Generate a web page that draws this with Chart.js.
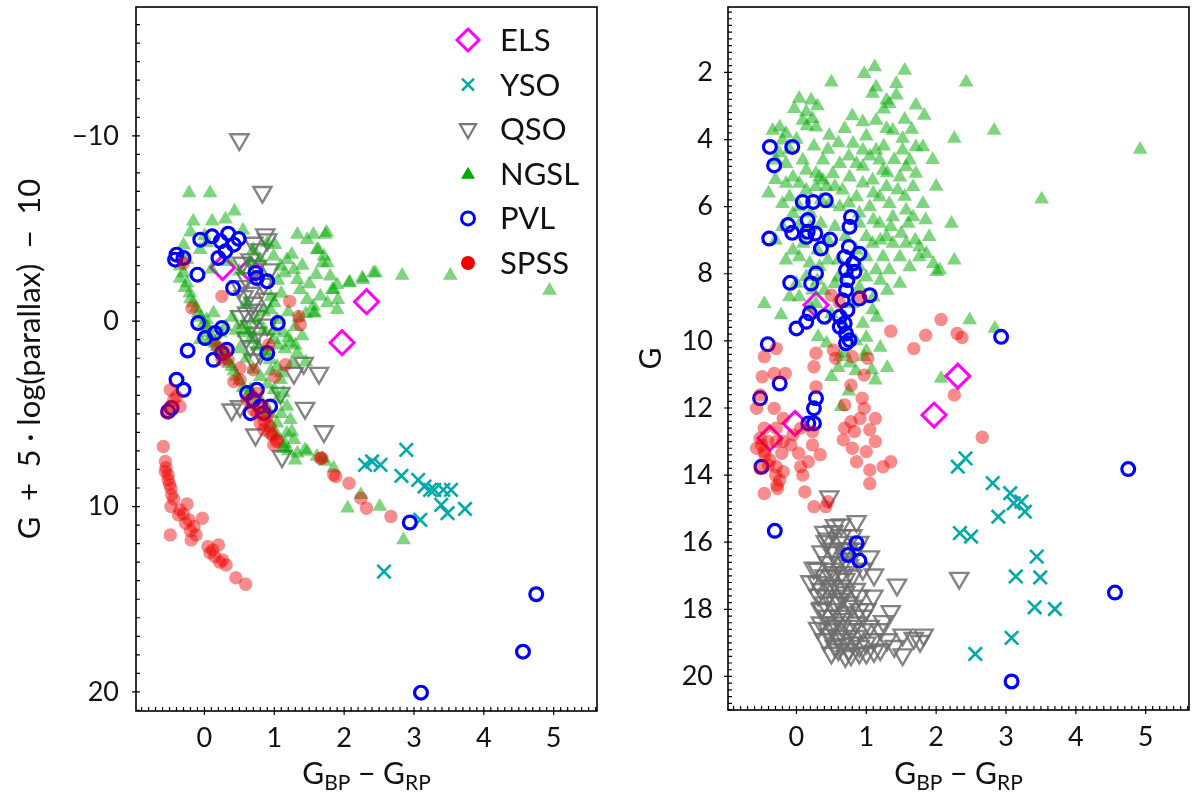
<!DOCTYPE html>
<html>
<head>
<meta charset="utf-8">
<title>Colour-magnitude diagrams</title>
<script src="https://cdn.jsdelivr.net/npm/chart.js@4.4.1/dist/chart.umd.min.js"></script>
<style>
  body { margin: 0; background: #fff; }
  canvas { position: absolute; top: 0; }
</style>
</head>
<body>
<canvas id="absPanel" width="600" height="795" style="left:0"></canvas>
<canvas id="appPanel" width="600" height="795" style="left:600px"></canvas>
<script>
// ---- data: [colour Gbp-Grp, magnitude] ----
const legendNames = ["ELS", "YSO", "QSO", "NGSL", "PVL", "SPSS"];
const colourTicks = [0, 1, 2, 3, 4, 5];
const absTicks = [-10, 0, 10, 20];
const appTicks = [2, 4, 6, 8, 10, 12, 14, 16, 18, 20];

// left panel: G + 5 log(parallax) - 10
const elsAbs = [[0.26,-2.89],[0.66,-2.78],[2.32,-1.05],[1.97,1.16]];
const ysoAbs = [[2.89,6.94],[2.3,7.75],[2.4,7.57],[2.52,7.75],[2.82,8.34],[3.06,8.56],[3.15,8.92],[3.23,9.1],
  [3.29,9.1],[3.42,9.1],[3.53,9.1],[3.39,9.91],[3.48,10.36],[3.73,10.13],[3.09,10.72],[2.57,13.51]];
const qsoAbs = [[0.5,-9.8],[0.83,-6.96],[0.87,-4.67],[0.7,-4.22],[0.8,-3.86],[0.54,-3.14],[0.66,-3.32],[0.75,-2.96],
  [0.94,-2.78],[0.51,-1.88],[0.66,-1.52],[0.56,-1.34],[0.7,-0.98],[0.61,-0.44],[0.75,-0.26],[0.51,-0.26],
  [0.66,0.28],[0.75,0.64],[0.85,1.0],[0.66,1.36],[0.8,1.72],[0.7,2.08],[1.42,2.26],[1.64,2.8],[1.28,2.8],
  [1.09,3.88],[1.44,4.69],[1.71,5.95],[1.11,7.3],[0.73,6.13],[0.39,4.78],[0.51,4.6],[0.9,-4.4],[0.6,-2.3],
  [0.85,-2.0],[0.7,-0.6],[0.9,0.2],[0.6,0.9],[0.9,-1.2]];
const ngslAbs = [[-0.22,-6.92],[0.08,-6.92],[0.43,-5.93],[-0.16,-5.39],[0.11,-5.39],[1.33,-4.67],[1.56,-4.67],
  [1.73,-4.67],[1.47,-4.4],[1.75,-4.78],[1.01,-4.13],[1.61,-3.86],[1.71,-3.5],[1.76,-3.14],[2.42,-2.6],
  [2.26,-2.33],[2.07,-2.06],[1.9,-1.97],[1.83,-1.7],[2.45,-2.6],[2.27,-2.24],[2.08,-2.1],[2.83,-2.46],
  [3.52,-2.46],[4.94,-1.65],[1.18,-3.32],[1.28,-2.78],[1.33,-2.24],[1.37,-1.7],[1.47,-1.16],[1.56,-0.8],
  [1.66,-1.34],[1.76,-0.98],[1.9,-0.62],[1.56,-0.44],[1.8,-2.42],[1.85,-1.7],[1.91,-1.16],[1.58,-0.44],
  [1.69,-3.14],[1.63,-3.86],[-0.3,-2.6],[-0.25,-2.06],[-0.21,-1.52],[-0.16,-0.98],[-0.09,-0.44],[-0.01,0.1],
  [0.03,0.64],[0.08,1.09],[0.18,1.36],[0.25,1.72],[0.32,2.08],[0.39,2.44],[0.46,2.98],[0.56,0.64],[0.66,1.0],
  [0.75,1.36],[0.85,1.72],[0.94,2.08],[1.04,2.44],[1.09,3.16],[1.13,3.88],[1.18,4.6],[1.23,5.32],[1.18,6.04],
  [1.28,6.4],[1.13,6.76],[0.94,-0.62],[1.04,-0.08],[1.13,0.64],[1.23,1.18],[1.33,1.72],[0.99,1.0],[0.85,0.46],
  [0.75,-0.08],[0.7,-3.86],[0.9,-4.22],[0.8,-3.32],[0.99,-3.5],[1.09,-2.96],[-0.25,-3.32],[-0.35,-2.96],
  [-0.06,-3.86],[0.03,-4.22],[1.44,6.94],[1.61,7.3],[1.73,7.57],[1.85,7.93],[1.33,7.12],[1.47,7.03],[1.69,7.39],
  [0.03,-0.08],[0.23,0.64],[-0.06,1.0],[0.13,-0.44],[0.66,3.7],[0.8,4.24],[0.94,4.96],[1.04,5.5],[0.99,6.04],
  [1.25,5.95],[1.14,6.85],[2.05,10.09],[2.24,9.37],[2.51,10.0],[2.85,11.8],[1.1,-1.5],[1.2,-0.5],[1.3,0.3],
  [1.0,0.5],[1.15,1.5],[1.25,2.3],[1.4,0.8],[1.05,-2.2],[0.95,-1.3],[1.35,-0.2],[0.9,1.6],[1.1,2.8],[1.45,2.2],
  [0.6,-1.0],[0.4,-0.2],[0.3,0.3],[0.5,1.5],[0.1,-2.8],[0.45,0.5],
  [-0.35,-2.3],[-0.28,-1.8],[-0.2,-1.2],[-0.12,-0.7],[-0.05,-0.2],[0.05,0.35],[0.1,0.8],[0.15,1.2],[0.22,1.5],
  [0.28,1.9],[0.35,2.3],[0.42,2.7],[0.5,3.2],[0.55,3.6],[0.62,4.0],[0.72,4.5],[0.85,5.0],[0.95,5.6],[1.05,6.2],
  [1.15,6.6],[1.2,7.0],[1.3,7.5],[0.6,2.0],[0.7,2.6],[0.8,3.0],[0.9,3.4],[1.0,3.7],[1.05,4.2],[1.1,5.0],
  [0.55,0.2],[0.65,0.5],[0.85,-0.5],[1.0,-1.0],[1.15,-2.6],[1.25,-3.6],[1.4,-3.0],[1.5,-2.0],[1.6,-2.5],
  [1.45,-0.4],[1.2,0.9],[1.3,1.3],[1.05,1.3],[0.95,2.7],[-0.2,-4.8],[0.0,-4.6],[-0.3,-4.1],[0.3,-5.5],
  [0.55,-4.9],[0.65,-3.2],[0.5,-2.7],[0.35,-3.2]];
const pvlAbs = [[-0.06,-4.4],[0.11,-4.58],[0.23,-4.31],[0.34,-4.72],[0.49,-4.44],[0.42,-4.13],[0.3,-3.77],
  [0.2,-3.41],[-0.4,-3.59],[-0.3,-3.41],[-0.42,-3.32],[-0.1,-2.51],[0.73,-2.6],[0.75,-2.33],[0.9,-2.15],
  [0.41,-1.79],[1.05,0.1],[-0.09,0.1],[0.01,0.91],[0.15,0.64],[0.25,0.37],[-0.24,1.58],[0.13,2.08],[0.25,1.72],
  [0.32,1.54],[0.9,1.72],[-0.4,3.16],[-0.3,3.7],[-0.52,4.87],[0.61,3.88],[0.7,4.24],[0.8,4.6],[0.66,4.96],
  [0.85,4.96],[0.94,4.6],[0.75,3.7],[-0.47,4.69],[2.94,10.86],[4.75,14.73],[4.56,17.83],[3.1,20.04]];
const spssAbs = [[-0.3,-3.14],[0.25,-1.34],[-0.18,-0.71],[1.22,-1.07],[1.35,-0.26],[1.37,0.19],[0.92,1.27],
  [0.18,1.36],[0.3,1.63],[0.25,2.08],[0.34,2.08],[0.51,2.53],[0.7,2.62],[0.51,3.16],[0.42,3.25],[1.01,2.98],
  [1.16,2.35],[0.61,4.24],[0.75,3.88],[0.85,4.6],[0.75,4.96],[0.8,5.5],[0.9,5.14],[0.7,4.78],[0.85,5.86],
  [0.94,6.04],[1.04,6.4],[0.99,6.67],[0.94,5.68],[1.68,7.39],[1.85,8.29],[-0.49,3.7],[-0.44,4.24],[-0.35,4.6],
  [-0.49,4.6],[-0.54,4.96],[-0.4,4.06],[-0.59,6.76],[-0.56,7.57],[-0.56,8.11],[-0.52,8.29],[-0.52,8.56],
  [-0.48,9.01],[-0.47,9.37],[-0.48,10.0],[-0.35,10.18],[-0.37,10.45],[-0.25,9.86],[-0.22,10.72],[-0.15,11.08],
  [-0.12,11.53],[-0.19,11.8],[-0.03,10.63],[0.05,12.16],[0.12,12.34],[0.2,12.07],[0.26,12.88],[0.31,13.15],
  [0.45,13.84],[0.59,14.19],[-0.49,11.53],[-0.55,7.9],[-0.5,8.8],[-0.44,9.6],[-0.3,10.4],[-0.27,10.9],
  [-0.2,11.3],[0.08,12.5],[0.15,12.7],[0.22,13.0],[2.07,8.74],[1.88,8.38],[2.24,9.55],[2.32,10.09],[2.67,10.54],
  [1.66,7.39],[0.86,5.41],[0.97,6.13],[1.03,6.49]];

// right panel: apparent G
const elsApp = [[-0.38,12.9],[-0.02,12.46],[1.97,12.21],[2.31,11.05],[0.28,8.93]];
const ysoApp = [[2.31,13.75],[2.42,13.5],[2.81,14.24],[3.06,14.54],[3.11,14.84],[3.22,14.79],[3.27,15.09],
  [2.89,15.24],[2.34,15.73],[2.5,15.83],[3.44,16.43],[3.14,17.02],[3.49,17.05],[3.41,17.94],[3.7,17.99],
  [3.08,18.85],[2.56,19.33]];
const qsoApp = [[0.47,14.64],[0.86,15.38],[0.64,15.48],[0.53,15.68],[0.42,15.98],[0.36,16.28],[0.25,16.77],
  [0.2,17.17],[0.31,17.57],[0.36,17.96],[0.31,18.56],[0.47,18.76],[0.64,19.05],[0.78,19.35],[1.05,16.43],
  [1.11,16.97],[1.44,17.27],[1.35,18.06],[1.24,18.36],[1.52,18.76],[1.52,19.35],[1.11,19.25],[1.82,18.76],
  [1.68,18.86],[1.77,18.95],[2.33,17.07],[0.5,16.2],[0.6,16.0],[0.7,16.5],[0.55,16.9],[0.65,17.3],[0.45,17.6],
  [0.75,17.8],[0.6,18.2],[0.5,18.5],[0.7,18.9],[0.85,18.4],[0.9,17.6],[1.0,18.0],[0.8,17.0],[0.95,16.8],
  [0.4,18.9],[0.55,19.1],[0.75,19.2],[1.0,19.0],[1.2,18.6],[1.1,17.6],[0.35,17.4],[0.45,16.6],[0.65,15.8],
  [0.75,16.2],[0.4,17.0],[0.5,17.3],[0.6,17.7],[0.7,18.1],[0.8,18.6],[0.9,19.1],[0.65,18.5],[0.55,17.8],
  [0.85,17.4],[0.95,18.2],[1.05,18.5],[0.45,18.2],[0.6,16.6],[0.7,17.1],[0.8,15.8],[0.9,16.0],[0.35,18.4],
  [0.5,19.3],[1.3,18.9],[1.4,19.1],[1.2,19.2],[0.7,19.4],[0.3,16.8],[0.4,15.7],[0.55,15.5],
  [0.45,15.9],[0.55,16.3],[0.65,16.9],[0.75,16.7],[0.85,16.2],[0.5,17.0],[0.6,17.4],[0.4,17.8],[0.7,17.5],
  [0.8,17.9],[0.9,18.0],[0.55,18.0],[0.65,18.3],[0.45,18.6],[0.6,18.8],[0.75,18.5],[0.85,18.8],[0.95,18.6],
  [0.55,18.4],[0.6,19.2],[0.8,19.0],[0.9,19.3],[1.0,19.3],[1.1,18.9],[0.35,18.0],[0.3,17.2],[0.45,17.3],
  [0.7,16.2],[0.5,16.8],[0.65,17.6]];
const ngslApp = [[1.12,1.84],[1.55,1.94],[0.97,2.04],[1.43,2.34],[1.14,2.44],[0.5,2.29],[2.43,2.29],[1.09,2.63],
  [1.29,2.83],[1.43,2.68],[1.71,2.98],[1.83,3.28],[1.33,2.93],[0.04,2.78],[0.21,2.83],[-0.03,3.08],[0.14,3.18],
  [0.23,3.38],[0.09,3.43],[0.28,3.63],[-0.24,3.63],[-0.15,3.82],[-0.2,4.02],[-0.34,3.73],[0.47,3.88],[0.69,3.68],
  [0.95,3.48],[1.14,3.43],[1.29,3.68],[1.38,3.73],[1.52,3.97],[1.71,4.22],[1.81,4.22],[2.26,3.97],[1.14,4.32],
  [1.19,4.62],[1.24,4.92],[1.09,5.21],[1.29,5.41],[1.19,5.71],[1.33,5.91],[1.05,6.01],[0.81,4.12],[0.95,4.32],
  [0.86,4.72],[0.76,5.12],[0.62,4.72],[0.52,5.02],[0.38,4.62],[0.33,5.12],[0.43,5.41],[0.28,5.41],[0.66,5.51],
  [0.86,5.71],[0.62,6.01],[0.47,5.91],[1.52,4.32],[1.62,4.62],[1.71,5.01],[1.67,5.41],[1.57,4.82],[1.48,5.12],
  [1.81,5.91],[1.57,6.11],[1.38,6.31],[1.67,6.31],[-0.15,4.72],[-0.05,5.12],[-0.15,5.31],[0.04,5.31],[-0.1,5.71],
  [-0.2,5.91],[-0.05,6.21],[0.04,6.01],[0.14,5.51],[0.28,5.01],[0.14,4.92],[0.38,5.21],[0.09,4.62],[-0.29,4.62],
  [0.9,6.5],[1.0,6.9],[1.19,6.5],[1.29,6.9],[1.09,7.1],[1.38,7.1],[1.24,7.5],[1.0,7.5],[1.48,7.5],[1.14,7.89],
  [1.33,7.89],[1.48,8.29],[1.62,7.8],[1.76,7.5],[1.86,7.4],[1.96,7.7],[2.05,7.89],[1.57,7.1],[1.76,7.2],[0.86,7.3],
  [2.22,6.5],[2.26,7.6],[2.48,9.38],[-0.05,7.3],[0.04,7.5],[0.19,7.69],[0.33,7.79],[0.14,8.09],[0.0,8.29],
  [0.23,8.49],[0.04,8.69],[0.28,8.89],[-0.1,8.69],[-0.46,8.89],[-0.22,9.23],[0.31,9.88],[0.43,10.07],[0.62,10.47],
  [0.76,10.67],[0.95,9.48],[1.09,9.08],[2.83,3.73],[4.92,4.3],[3.51,5.78],[2.01,7.94],[2.84,9.63],[2.07,11.12],
  [0.5,11.07],[1.08,10.87],[1.13,11.17],[0.69,10.37],[0.97,10.47],[0.64,11.96],[0.55,6.6],[0.7,6.9],[0.6,7.6],
  [0.75,8.0],[0.55,8.3],[0.9,8.4],[0.8,8.9],[0.45,7.0],[0.35,6.5],[0.2,6.6],[1.1,8.7],[1.0,9.9],[0.85,10.0],
  [0.7,9.6],[0.5,9.2],
  [0.3,3.0],[0.15,3.6],[0.0,4.0],[-0.1,4.3],[0.45,4.3],[0.6,4.1],[0.75,4.5],[0.95,4.8],[1.05,4.5],[1.25,4.2],
  [1.4,4.6],[1.45,5.5],[1.3,5.0],[1.1,5.6],[0.95,5.3],[0.75,5.9],[0.55,5.4],[0.35,5.8],[0.2,6.2],[0.05,6.5],
  [-0.2,6.6],[-0.3,7.0],[-0.15,7.6],[0.1,7.1],[0.3,7.3],[0.45,7.6],[0.6,8.1],[0.4,8.5],[0.2,9.0],[0.3,8.2],
  [0.9,6.2],[1.1,6.4],[1.2,7.0],[1.35,6.6],[1.5,6.8],[1.6,6.5],[1.7,7.0],[1.9,6.9],[1.2,8.2],[1.3,8.5],
  [1.0,8.1],[0.9,7.8],[1.15,9.3],[1.0,10.3],[0.85,10.9],[0.75,11.5],[0.6,10.8],[1.2,10.2],[1.3,10.8],
  [1.25,3.1],[1.55,3.4],[1.0,3.9],[0.8,3.3],[1.65,3.7],[1.95,4.6],[2.0,5.4],[1.85,6.4],[1.55,5.7],[0.25,4.2],
  [-0.3,5.2],[-0.4,5.6],[-0.25,4.4]];
const pvlApp = [[-0.38,4.22],[-0.06,4.22],[-0.32,4.77],[0.09,5.86],[0.24,5.86],[0.42,5.81],[0.78,6.31],[0.76,6.6],
  [-0.12,6.55],[-0.06,6.78],[0.16,6.4],[0.16,6.75],[0.27,6.8],[0.14,6.9],[0.35,7.25],[0.48,6.98],[-0.39,6.95],
  [0.75,7.2],[0.9,7.4],[0.69,7.5],[0.81,7.69],[0.71,7.89],[0.83,7.94],[0.73,8.19],[0.28,7.99],[0.21,8.29],
  [-0.09,8.27],[0.71,8.49],[0.66,8.79],[0.73,9.08],[0.62,9.28],[0.69,9.48],[0.62,9.58],[0.71,9.78],[0.76,9.98],
  [0.71,10.07],[1.05,8.64],[0.9,8.74],[0.4,9.28],[0.19,9.18],[0.14,9.43],[0.0,9.63],[-0.41,10.1],[2.93,9.88],
  [-0.24,11.27],[-0.52,11.71],[0.28,11.71],[0.25,12.01],[0.17,12.46],[0.25,12.46],[-0.5,13.75],[-0.31,15.66],
  [0.86,16.03],[0.74,16.38],[0.9,16.55],[4.75,13.82],[4.56,17.5],[3.08,20.15]];
const spssApp = [[0.5,8.64],[0.61,8.84],[0.92,8.69],[2.07,9.36],[1.85,9.83],[1.68,10.23],[1.35,9.71],[2.3,9.78],
  [2.37,9.9],[-0.29,10.23],[-0.46,10.47],[-0.49,11.07],[-0.32,10.97],[-0.16,10.97],[0.28,10.37],[0.25,10.77],
  [0.53,10.27],[0.56,10.52],[0.8,10.47],[1.02,10.52],[0.97,11.02],[0.78,11.32],[0.28,11.37],[0.94,11.71],
  [-0.52,11.61],[-0.57,12.01],[-0.32,12.01],[-0.19,12.31],[-0.46,12.6],[-0.29,12.6],[-0.52,12.9],[-0.41,13.0],
  [-0.57,13.2],[-0.46,13.3],[-0.29,13.0],[-0.19,13.0],[-0.21,13.35],[-0.08,13.1],[-0.38,13.55],[-0.52,13.8],
  [-0.29,13.75],[-0.19,13.9],[-0.24,14.15],[-0.27,14.4],[-0.46,14.55],[0.09,14.0],[0.12,14.5],[0.06,13.75],
  [0.17,13.6],[0.23,13.1],[0.34,13.39],[0.03,13.35],[-0.05,12.8],[0.06,12.6],[0.23,12.7],[0.25,14.94],[0.42,14.94],
  [0.45,14.79],[0.69,11.91],[0.97,12.01],[0.91,12.31],[0.78,12.41],[1.13,12.31],[0.69,12.6],[0.83,12.7],
  [1.05,12.65],[0.67,12.95],[0.8,13.2],[1.0,13.3],[0.86,13.6],[1.13,13.0],[1.05,13.85],[1.24,13.75],[1.35,13.6],
  [1.05,14.25],[2.66,12.87],[2.26,11.61],[-0.5,13.1],[-0.45,13.4],[-0.4,13.7],[-0.3,14.0],[-0.28,14.3]];

const FONT = "Lato, 'DejaVu Sans', sans-serif";

function pts(arr) {
  return arr.map(p => ({ x: p[0], y: p[1] }));
}

function makeSets(els, yso, qso, ngsl, pvl, spss) {
  return [
    { label: "ELS", data: pts(els), order: 6, pointStyle: "rectRot", pointRadius: 12,
      borderColor: "#ff00ff", backgroundColor: "rgba(0,0,0,0)", pointBorderWidth: 3 },
    { label: "YSO", data: pts(yso), order: 5, pointStyle: "crossRot", pointRadius: 9.5,
      borderColor: "#00aaaa", backgroundColor: "#00aaaa", pointBorderWidth: 2.6 },
    { label: "QSO", data: pts(qso), order: 4, pointStyle: "triangle", pointRotation: 180, pointRadius: 10.5,
      borderColor: "rgba(110,110,110,0.85)", backgroundColor: "rgba(0,0,0,0)", pointBorderWidth: 2.4 },
    { label: "NGSL", data: pts(ngsl), order: 3, pointStyle: "triangle", pointRadius: 8.5,
      borderColor: "rgba(0,0,0,0)", backgroundColor: "rgba(0,170,0,0.5)", pointBorderWidth: 0 },
    { label: "PVL", data: pts(pvl), order: 2, pointStyle: "circle", pointRadius: 6.4,
      borderColor: "#0000ff", backgroundColor: "rgba(0,0,0,0)", pointBorderWidth: 3.2 },
    { label: "SPSS", data: pts(spss), order: 1, pointStyle: "circle", pointRadius: 6.7,
      borderColor: "rgba(0,0,0,0)", backgroundColor: "rgba(240,0,0,0.45)", pointBorderWidth: 0 }
  ];
}

function fmt(v) {
  return v < 0 ? "\u2212" + Math.abs(v) : String(v);
}

// frame, inward minor ticks, crossing major ticks, x title with subscripts
const framePlugin = {
  id: "frame",
  afterDraw(chart, args, opts) {
    const { ctx, chartArea: a } = chart;
    const xs = chart.scales.x, ys = chart.scales.y;
    ctx.save();
    ctx.strokeStyle = "#000";
    ctx.lineWidth = 1.2;
    ctx.beginPath();
    for (let i = Math.ceil(xs.min / 0.1); i * 0.1 <= xs.max; i++) {
      const px = xs.getPixelForValue(i * 0.1);
      ctx.moveTo(px, a.bottom);
      ctx.lineTo(px, a.bottom - 4);
    }
    colourTicks.forEach(v => {
      const px = xs.getPixelForValue(v);
      ctx.moveTo(px, a.bottom + 4);
      ctx.lineTo(px, a.bottom - 4);
    });
    const lo = Math.min(ys.min, ys.max), hi = Math.max(ys.min, ys.max);
    for (let i = Math.ceil(lo / opts.minorY); i * opts.minorY <= hi; i++) {
      const py = ys.getPixelForValue(i * opts.minorY);
      ctx.moveTo(a.left, py);
      ctx.lineTo(a.left + 4, py);
    }
    opts.majorY.forEach(v => {
      const py = ys.getPixelForValue(v);
      ctx.moveTo(a.left - 4, py);
      ctx.lineTo(a.left + 4, py);
    });
    ctx.stroke();
    ctx.lineWidth = 1.6;
    ctx.strokeRect(a.left, a.top, a.right - a.left, a.bottom - a.top);

    // x axis title G_BP - G_RP
    const parts = [["G", 30, 0], ["BP", 21, 6], [" \u2212 G", 30, 0], ["RP", 21, 6]];
    let w = 0;
    parts.forEach(p => { ctx.font = p[1] + "px " + FONT; w += ctx.measureText(p[0]).width; });
    let x0 = (a.left + a.right) / 2 - w / 2;
    ctx.fillStyle = "#111";
    ctx.textBaseline = "alphabetic";
    ctx.textAlign = "left";
    parts.forEach(p => {
      ctx.font = p[1] + "px " + FONT;
      ctx.fillText(p[0], x0, 784 + p[2]);
      x0 += ctx.measureText(p[0]).width;
    });
    ctx.restore();
  }
};

// legend in the upper right of the left panel
const legendPlugin = {
  id: "cornerLegend",
  afterDraw(chart) {
    const ctx = chart.ctx;
    const mx = 468, tx = 500, y0 = 40, dy = 44.6;
    ctx.save();
    legendNames.forEach((name, i) => {
      const y = y0 + i * dy;
      ctx.beginPath();
      if (name === "ELS") {
        ctx.strokeStyle = "#ff00ff"; ctx.lineWidth = 3;
        ctx.moveTo(mx, y - 11); ctx.lineTo(mx + 11, y); ctx.lineTo(mx, y + 11); ctx.lineTo(mx - 11, y);
        ctx.closePath(); ctx.stroke();
      } else if (name === "YSO") {
        ctx.strokeStyle = "#00aaaa"; ctx.lineWidth = 2.5;
        ctx.moveTo(mx - 6, y - 6); ctx.lineTo(mx + 6, y + 6);
        ctx.moveTo(mx + 6, y - 6); ctx.lineTo(mx - 6, y + 6); ctx.stroke();
      } else if (name === "QSO") {
        ctx.strokeStyle = "#777"; ctx.lineWidth = 2.2;
        ctx.moveTo(mx - 8, y - 5); ctx.lineTo(mx + 8, y - 5); ctx.lineTo(mx, y + 9);
        ctx.closePath(); ctx.stroke();
      } else if (name === "NGSL") {
        ctx.fillStyle = "#00aa00";
        ctx.moveTo(mx, y - 7); ctx.lineTo(mx + 7, y + 5); ctx.lineTo(mx - 7, y + 5);
        ctx.closePath(); ctx.fill();
      } else if (name === "PVL") {
        ctx.strokeStyle = "#0000ff"; ctx.lineWidth = 3;
        ctx.arc(mx, y, 6.5, 0, Math.PI * 2); ctx.stroke();
      } else {
        ctx.fillStyle = "#ee0000";
        ctx.arc(mx, y, 7, 0, Math.PI * 2); ctx.fill();
      }
      ctx.fillStyle = "#111";
      ctx.font = "31px " + FONT;
      ctx.textBaseline = "middle";
      ctx.textAlign = "left";
      ctx.fillText(name, tx, y + 1);
    });
    ctx.restore();
  }
};

function makeChart(id, sets, yCfg, layout, plugins) {
  return new Chart(document.getElementById(id), {
    type: "scatter",
    data: { datasets: sets },
    options: {
      responsive: false,
      animation: false,
      events: [],
      layout: { padding: layout.padding, autoPadding: false },
      plugins: {
        legend: { display: false },
        tooltip: { enabled: false },
        frame: { minorY: yCfg.minor, majorY: yCfg.ticks }
      },
      scales: {
        x: {
          type: "linear", min: -0.98, max: 5.62,
          grid: { display: false, drawTicks: false },
          border: { display: false },
          afterFit: s => { s.height = layout.xHeight; s.paddingLeft = 0; s.paddingRight = 0; },
          afterBuildTicks: s => { s.ticks = colourTicks.map(v => ({ value: v })); },
          ticks: { autoSkip: false, maxRotation: 0, padding: 11, color: "#111", font: { family: FONT, size: 27 },
            callback: v => fmt(v) }
        },
        y: {
          type: "linear", reverse: true, min: yCfg.min, max: yCfg.max,
          grid: { display: false, drawTicks: false },
          border: { display: false },
          afterFit: s => { s.width = layout.yWidth; s.paddingTop = 0; s.paddingBottom = 0; },
          afterBuildTicks: s => { s.ticks = yCfg.ticks.map(v => ({ value: v })); },
          ticks: { autoSkip: false, padding: layout.yPad, color: "#111", font: { family: FONT, size: 27 },
            callback: v => fmt(v) },
          title: { display: true, text: yCfg.title, color: "#111", font: { family: FONT, size: layout.titleSize },
            padding: { top: layout.titlePad, bottom: 0 } }
        }
      }
    },
    plugins: plugins
  });
}

makeChart("absPanel",
  makeSets(elsAbs, ysoAbs, qsoAbs, ngslAbs, pvlAbs, spssAbs),
  { min: -16.95, max: 21.03, ticks: absTicks, minor: 1,
    title: "G\u2002+\u20025 \u00b7 log(parallax)\u2002\u2212\u200210" },
  { padding: { top: 7, right: 3, left: 0, bottom: 0 }, xHeight: 84, yWidth: 136, yPad: 17,
    titlePad: 11, titleSize: 31 },
  [framePlugin, legendPlugin]);

makeChart("appPanel",
  makeSets(elsApp, ysoApp, qsoApp, ngslApp, pvlApp, spssApp),
  { min: 0.05, max: 21.0, ticks: appTicks, minor: 0.2, title: "G" },
  { padding: { top: 7, right: 11, left: 0, bottom: 0 }, xHeight: 85, yWidth: 128, yPad: 15,
    titlePad: 33, titleSize: 30 },
  [framePlugin]);
</script>
</body>
</html>
